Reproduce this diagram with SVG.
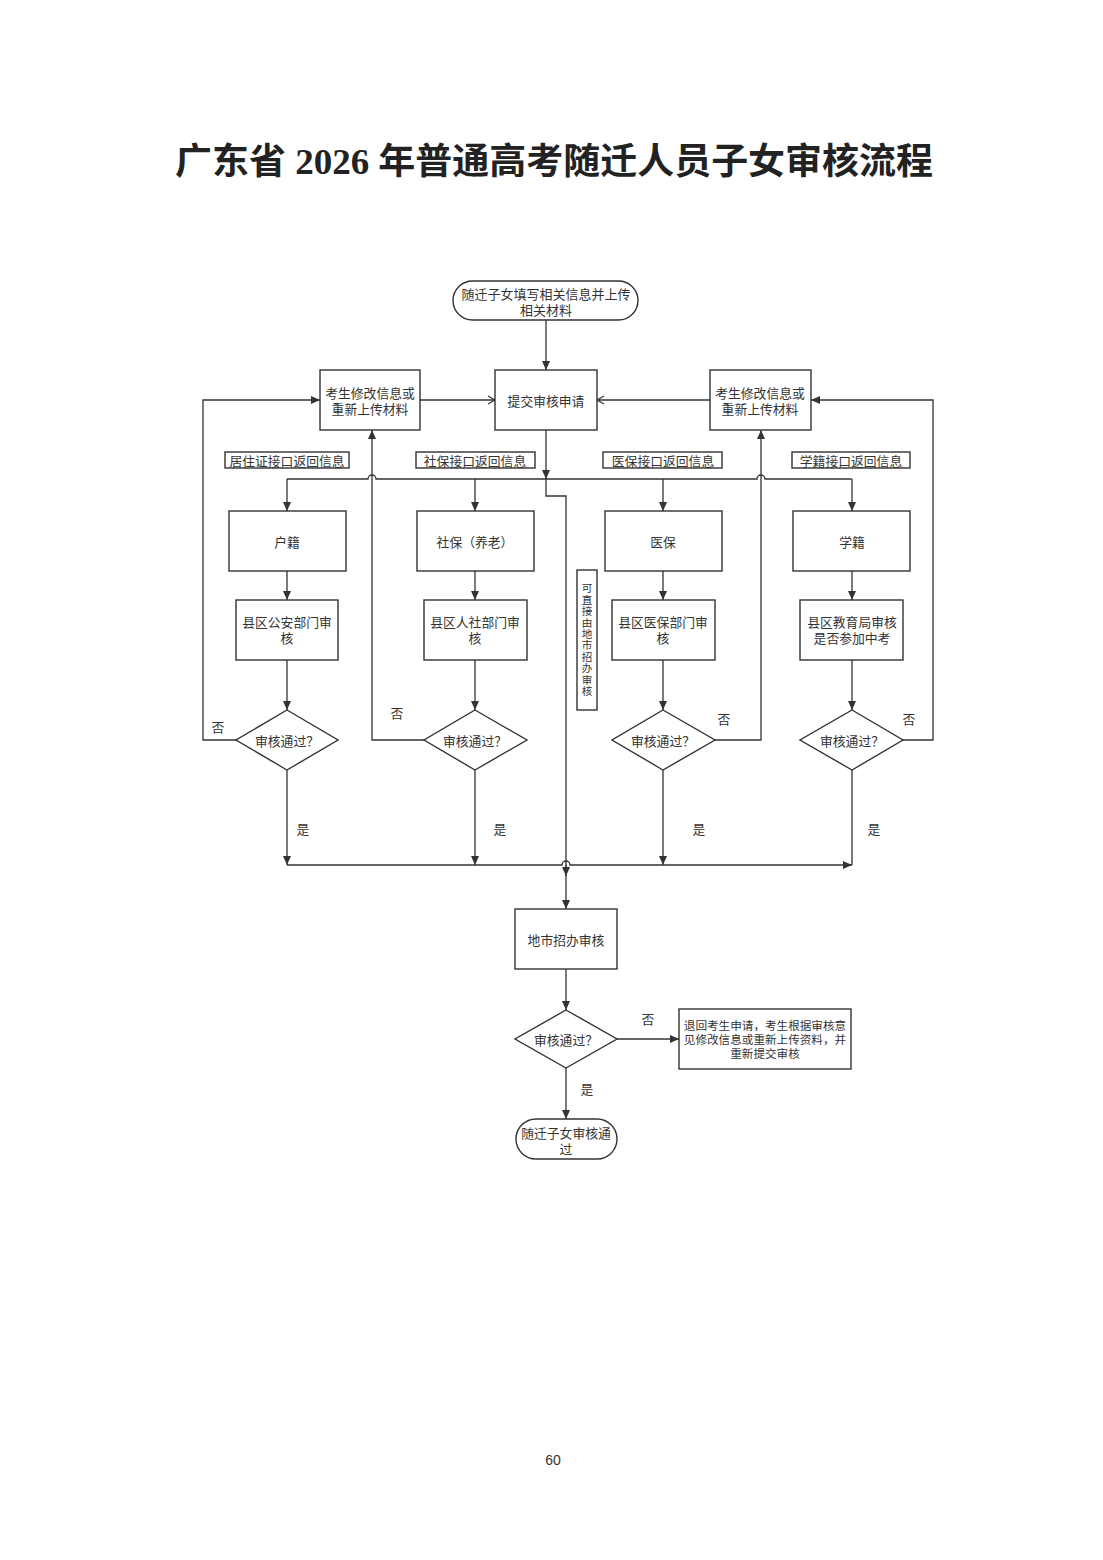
<svg xmlns="http://www.w3.org/2000/svg" width="1103" height="1560" viewBox="0 0 1103 1560">
<style>
.bx{fill:#fff;stroke:#333;stroke-width:1.4}
.ln{fill:none;stroke:#333;stroke-width:1.3}
.t{font-family:"Noto Sans CJK SC","Noto Sans",sans-serif;font-size:12.8px;fill:#333;text-anchor:middle;dominant-baseline:central}
.s{font-size:11.6px}
.title{font-family:"Liberation Serif","Noto Sans CJK SC",serif;font-size:36px;font-weight:bold;fill:#222;text-anchor:middle}
</style>
<defs>
<marker id="a" markerUnits="userSpaceOnUse" markerWidth="10" markerHeight="10" refX="9" refY="5" orient="auto"><path d="M0,1 L9,5 L0,9 z" fill="#333"/></marker>
<marker id="o" markerUnits="userSpaceOnUse" markerWidth="10" markerHeight="10" refX="8" refY="5" orient="auto"><path d="M1,1 L8,5 L1,9" fill="none" stroke="#333" stroke-width="1.2"/></marker>
</defs>
<rect width="1103" height="1560" fill="#fff"/>
<text class="title" x="554" y="174" textLength="758" lengthAdjust="spacingAndGlyphs">广东省 2026 年普通高考随迁人员子女审核流程</text>

<g id="connectors">
<path class="ln" d="M546,320 V370" marker-end="url(#a)"/>
<path class="ln" d="M420,400 H495" marker-end="url(#o)"/>
<path class="ln" d="M710,400 H597" marker-end="url(#o)"/>
<path class="ln" d="M236,740 H203 V400 H320" marker-end="url(#a)"/>
<path class="ln" d="M903,740 H933 V400 H811" marker-end="url(#a)"/>
<path class="ln" d="M424,740 H372 V430" marker-end="url(#a)"/>
<path class="ln" d="M715,740 H761 V430" marker-end="url(#a)"/>
<path class="ln" d="M546,430 V479" marker-end="url(#a)"/>
<path class="ln" d="M546,479 V496 H566 V876" marker-end="url(#a)"/>
<path class="ln" d="M287,479 H368 A4,4 0 0 1 376,479 H757 A4,4 0 0 1 765,479 H852"/>
<path class="ln" d="M287,479 V511" marker-end="url(#a)"/>
<path class="ln" d="M475,479 V511" marker-end="url(#a)"/>
<path class="ln" d="M663,479 V511" marker-end="url(#a)"/>
<path class="ln" d="M852,479 V511" marker-end="url(#a)"/>
<path class="ln" d="M287,571 V600" marker-end="url(#a)"/>
<path class="ln" d="M475,571 V600" marker-end="url(#a)"/>
<path class="ln" d="M663,571 V600" marker-end="url(#a)"/>
<path class="ln" d="M852,571 V600" marker-end="url(#a)"/>
<path class="ln" d="M287,660 V710" marker-end="url(#a)"/>
<path class="ln" d="M475,660 V710" marker-end="url(#a)"/>
<path class="ln" d="M663,660 V710" marker-end="url(#a)"/>
<path class="ln" d="M852,660 V710" marker-end="url(#a)"/>
<path class="ln" d="M287,770 V865" marker-end="url(#a)"/>
<path class="ln" d="M475,770 V865" marker-end="url(#a)"/>
<path class="ln" d="M663,770 V865" marker-end="url(#a)"/>
<path class="ln" d="M852,770 V865"/>
<path class="ln" d="M287,865 H562 A4,4 0 0 1 570,865 H852" marker-end="url(#a)"/>
<path class="ln" d="M566,865 V909" marker-end="url(#a)"/>
<path class="ln" d="M566,969 V1010" marker-end="url(#a)"/>
<path class="ln" d="M617,1039 H679" marker-end="url(#a)"/>
<path class="ln" d="M566,1068 V1119" marker-end="url(#a)"/>
<text class="t" x="218" y="726">否</text>
<text class="t" x="397" y="712">否</text>
<text class="t" x="724" y="718">否</text>
<text class="t" x="909" y="718">否</text>
<text class="t" x="303" y="828">是</text>
<text class="t" x="500" y="828">是</text>
<text class="t" x="699" y="828">是</text>
<text class="t" x="874" y="828">是</text>
<text class="t" x="648" y="1018">否</text>
<text class="t" x="587" y="1088">是</text>
</g>

<g id="start">
<rect class="bx" x="453" y="281" width="185" height="39" rx="19.5"/>
<text class="t" x="546" y="293" style="font-size:13px">随迁子女填写相关信息并上传</text>
<text class="t" x="546" y="309" style="font-size:13px">相关材料</text>
</g>
<g id="submit">
<rect class="bx" x="495" y="370" width="102" height="60"/>
<text class="t" x="546" y="400">提交审核申请</text>
</g>
<g id="modifyL">
<rect class="bx" x="320" y="370" width="100" height="60"/>
<text class="t" x="370" y="392">考生修改信息或</text>
<text class="t" x="370" y="408">重新上传材料</text>
</g>
<g id="modifyR">
<rect class="bx" x="710" y="370" width="101" height="60"/>
<text class="t" x="760" y="392">考生修改信息或</text>
<text class="t" x="760" y="408">重新上传材料</text>
</g>

<g id="lab1"><rect class="bx" x="225" y="452" width="124" height="16"/><text class="t" x="287" y="460">居住证接口返回信息</text></g>
<g id="lab2"><rect class="bx" x="416" y="452" width="119" height="16"/><text class="t" x="475" y="460">社保接口返回信息</text></g>
<g id="lab3"><rect class="bx" x="603" y="452" width="119" height="16"/><text class="t" x="663" y="460">医保接口返回信息</text></g>
<g id="lab4"><rect class="bx" x="792" y="452" width="118" height="16"/><text class="t" x="851" y="460">学籍接口返回信息</text></g>

<g id="huji"><rect class="bx" x="229" y="511" width="117" height="60"/><text class="t" x="287" y="541">户籍</text></g>
<g id="shebao"><rect class="bx" x="417" y="511" width="117" height="60"/><text class="t" x="475" y="541">社保（养老）</text></g>
<g id="yibao"><rect class="bx" x="605" y="511" width="117" height="60"/><text class="t" x="663" y="541">医保</text></g>
<g id="xueji"><rect class="bx" x="793" y="511" width="117" height="60"/><text class="t" x="852" y="541">学籍</text></g>

<g id="rev1"><rect class="bx" x="236" y="600" width="102" height="60"/><text class="t" x="287" y="621">县区公安部门审</text><text class="t" x="287" y="637">核</text></g>
<g id="rev2"><rect class="bx" x="424" y="600" width="103" height="60"/><text class="t" x="475" y="621">县区人社部门审</text><text class="t" x="475" y="637">核</text></g>
<g id="rev3"><rect class="bx" x="612" y="600" width="103" height="60"/><text class="t" x="663" y="621">县区医保部门审</text><text class="t" x="663" y="637">核</text></g>
<g id="rev4"><rect class="bx" x="800" y="600" width="103" height="60"/><text class="t" x="852" y="621">县区教育局审核</text><text class="t" x="852" y="637">是否参加中考</text></g>

<g id="dec1"><polygon class="bx" points="287,710 338,740 287,770 236,740"/><text class="t" x="287" y="740">审核通过？</text></g>
<g id="dec2"><polygon class="bx" points="475,710 527,740 475,770 424,740"/><text class="t" x="475" y="740">审核通过？</text></g>
<g id="dec3"><polygon class="bx" points="663,710 715,740 663,770 612,740"/><text class="t" x="663" y="740">审核通过？</text></g>
<g id="dec4"><polygon class="bx" points="852,710 903,740 852,770 800,740"/><text class="t" x="852" y="740">审核通过？</text></g>

<g id="direct">
<rect class="bx" x="577" y="570" width="20" height="140"/>
<text x="587" y="640" writing-mode="tb" style="font-family:'Noto Sans CJK SC',sans-serif;font-size:10.6px;letter-spacing:0.8px;fill:#333;text-anchor:middle;dominant-baseline:central">可直接由地市招办审核</text>
</g>

<g id="city"><rect class="bx" x="515" y="909" width="102" height="60"/><text class="t" x="566" y="939">地市招办审核</text></g>
<g id="dec5"><polygon class="bx" points="566,1010 617,1039 566,1068 515,1039"/><text class="t" x="566" y="1039">审核通过？</text></g>
<g id="reject">
<rect class="bx" x="679" y="1009" width="172" height="60"/>
<text class="t s" x="765" y="1025">退回考生申请，考生根据审核意</text>
<text class="t s" x="765" y="1039">见修改信息或重新上传资料，并</text>
<text class="t s" x="765" y="1053">重新提交审核</text>
</g>
<g id="end">
<rect class="bx" x="516" y="1119" width="101" height="40" rx="20"/>
<text class="t" x="566" y="1132">随迁子女审核通</text>
<text class="t" x="566" y="1148">过</text>
</g>
<text x="553" y="1465" style="font-family:'Liberation Sans',sans-serif;font-size:14px;fill:#333;text-anchor:middle">60</text>
</svg>
